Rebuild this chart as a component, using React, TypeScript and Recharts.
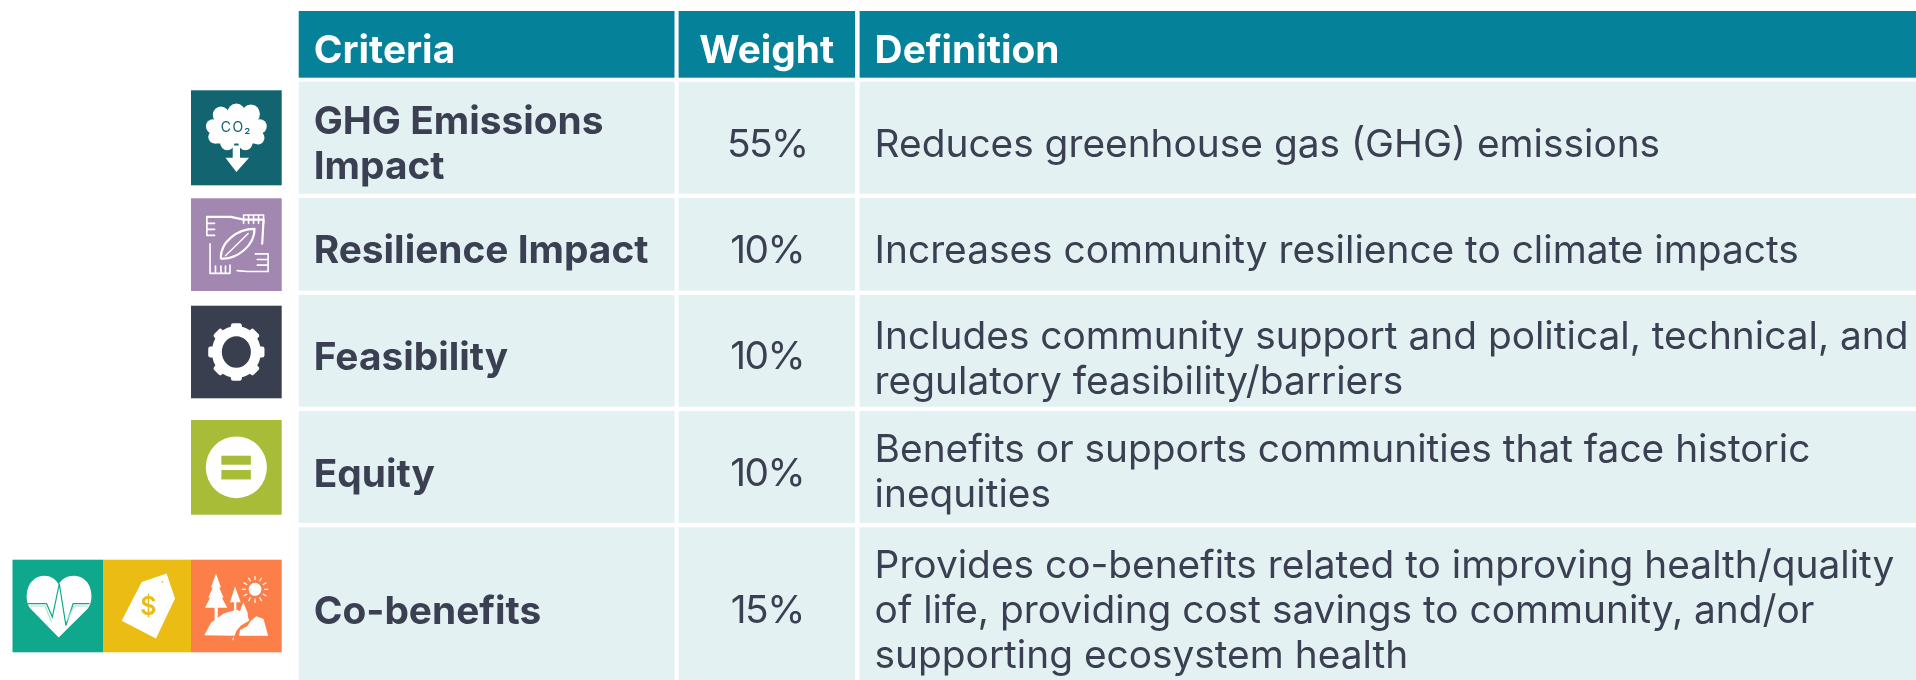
import React from "react";
import { ComposedChart, XAxis, YAxis, ReferenceArea, Scatter } from "recharts";

// ---- content ----
const headers = ["Criteria", "Weight", "Definition"];
const criteria = [
  ["GHG Emissions", "Impact"],
  ["Resilience Impact"],
  ["Feasibility"],
  ["Equity"],
  ["Co-benefits"],
];
const weights = [55, 10, 10, 10, 15];
const definitions = [
  ["Reduces greenhouse gas (GHG) emissions"],
  ["Increases community resilience to climate impacts"],
  ["Includes community support and political, technical, and", "regulatory feasibility/barriers"],
  ["Benefits or supports communities that face historic", "inequities"],
  [
    "Provides co-benefits related to improving health/quality",
    "of life, providing cost savings to community, and/or",
    "supporting ecosystem health",
  ],
];

// ---- layout on the chart's own pixel-sized axes ----
const W = 1916;
const H = 680;
const colLeft = [298.7, 678.6, 859.6];
const colRight = [674.5, 855, 1916];
const headTop = 11;
const headBottom = 77.7;
const headBase = 62.7;
const rowTop = [81.7, 198, 295, 411, 527.3];
const rowBottom = [193.7, 290.7, 406.7, 523, 680];
const critBase = [134, 263.3, 370.3, 487, 624.3];
const weightBase = [156.7, 262.7, 369.3, 486, 623.3];
const defBase = [156.7, 262.7, 349, 462.3, 578.3];
const LH = 45;
const TEXT_PAD = 15;
const iconLeft = [191];
const iconRight = [281.7];
const iconTop = [90.3, 198.3, 305.7, 420];
const iconBottom = [185.3, 291, 398.3, 514.7];
const benefitEdges = [12.5, 103, 191, 281.7];
const benefitTop = 559.7;
const benefitBottom = 652.3;

const HEAD = "#05829a";
const CELL = "#e4f1f3";
const INK = "#3b3f52";
const FONT = "Inter";
const SIZE = 38.85;

const weightPoints = weights.map((weight, r) => ({
  x: (colLeft[1] + colRight[1]) / 2 + 0.5,
  y: weightBase[r],
  weight,
}));

const rectShape = (fill: string, children?: (w: number, h: number) => React.ReactNode) => (p: any) => (
  <g transform={`translate(${p.x},${p.y})`}>
    <rect width={p.width} height={p.height} fill={fill} />
    {children ? children(p.width, p.height) : null}
  </g>
);

const textLines = (lines: string[], x: number, y: number, opts: any) => (
  <>
    {lines.map((l, i) => (
      <text key={i} x={x} y={y + i * LH} fontFamily={FONT} fontSize={SIZE} {...opts}>
        {l}
      </text>
    ))}
  </>
);

// Icons are drawn in a 0-100 box that is stretched to the area the axes give.
const box = (w: number, h: number, c: React.ReactNode) => (
  <g transform={`scale(${w / 100},${h / 100})`}>{c}</g>
);

const cloudIcon = (w: number, h: number) => (
  <>
    {box(
      w,
      h,
      <g fill="#fff">
        <circle cx="50" cy="24" r="10" />
        <circle cx="33" cy="26" r="9" />
        <circle cx="66" cy="25" r="10" />
        <circle cx="24" cy="38" r="7.5" />
        <circle cx="76" cy="38" r="7.5" />
        <circle cx="26" cy="49" r="7" />
        <circle cx="74" cy="50" r="7" />
        <circle cx="40" cy="55" r="8" />
        <circle cx="60" cy="55" r="8" />
        <rect x="26" y="24" width="48" height="32" />
        <path d="M46 58H54V71H64L50 86L38 71H46Z" />
      </g>
    )}
    <text x={w / 2} y={h * 0.44} textAnchor="middle" fontFamily={FONT} fontSize="14" fill="#126570" letterSpacing="1.5">
      CO₂
    </text>
  </>
);

const handsIcon = (w: number, h: number) =>
  box(
    w,
    h,
    <g fill="none" stroke="#fff" strokeWidth="2.4" strokeLinecap="round" strokeLinejoin="round">
      <path d="M33 65C32 48 50 33 70 33C70 50 52 66 33 65Z" />
      <path d="M38 62L63 38" strokeWidth="1.6" />
      <path d="M17.5 20H44L58 23H80L78.5 49" />
      <path d="M58 18V27M63.5 18V27M69 18V27M74.5 18V27M80 18V27M58 18H80" strokeWidth="1.8" />
      <path d="M17.5 20V40H26M17.5 27H26M17.5 33.5H26" strokeWidth="1.8" />
      <path d="M21 49V81H43V72M27 73V81M33 73V81M38 73V81" strokeWidth="1.8" />
      <path d="M51 78L62 79H85V60H71M85 60V79M73 66H85M73 72H85" strokeWidth="1.8" />
    </g>
  );

const gearIcon = (w: number, h: number) =>
  box(
    w,
    h,
    <g>
      <ellipse cx="50" cy="50" rx="21.5" ry="22.5" fill="none" stroke="#fff" strokeWidth="11" />
      {[0, 45, 90, 135, 180, 225, 270, 315].map((a) => (
        <rect key={a} x="44" y="19" width="12" height="11" rx="2.5" fill="#fff" transform={`rotate(${a} 50 50)`} />
      ))}
    </g>
  );

const equalIcon = (w: number, h: number) =>
  box(
    w,
    h,
    <g>
      <ellipse cx="50" cy="50" rx="33.7" ry="32.6" fill="#fff" />
      <rect x="33.5" y="37.7" width="32.5" height="9.5" fill="#a8bc38" />
      <rect x="33.5" y="52.8" width="32.5" height="10" fill="#a8bc38" />
    </g>
  );

const heartIcon = (w: number, h: number) =>
  box(
    w,
    h,
    <g>
      <path d="M51 84L20 53C13 45 15 28 23 22C32 14 46 17 51 27C56 17 71 14 80 22C88 28 90 45 83 53Z" fill="#fff" />
      <path d="M17 47.5H37.6L44 62L51.7 26L59 71L67 47.5H85" fill="none" stroke="#0fa88c" strokeWidth="1.3" />
      <path d="M19 50H36L43 67M60 66L68 50H83" fill="none" stroke="#a5dfd3" strokeWidth="1.2" />
    </g>
  );

const tagIcon = (w: number, h: number) => (
  <>
    {box(
      w,
      h,
      <g>
        <path d="M72.3 15L81.8 42L60.2 85L21.2 66L44 24Z" fill="#fff" />
        <circle cx="67.4" cy="24" r="1" fill="#ebbd14" />
      </g>
    )}
    <text x={w * 0.515} y={h * 0.6} textAnchor="middle" fontFamily={FONT} fontSize="25" fontWeight="600" fill="#ebbd14">
      $
    </text>
  </>
);

const natureIcon = (w: number, h: number) =>
  box(
    w,
    h,
    <g fill="#fff">
      <path d="M27.6 15L33 30H31L36 41H34L40 52H29.5V67H26V52H15.5L21 41H19L24 30H22Z" />
      <path d="M48.5 29L54.8 46H50V58H47.5V46H43Z" />
      <path d="M57.7 46L63 59H52.5Z" />
      <circle cx="70.6" cy="32" r="7" />
      <g stroke="#fff" strokeWidth="1.3">
        {[0, 30, 60, 90, 120, 150, 180, 210, 240, 270, 300, 330].map((a) => (
          <line key={a} x1="70.6" y1="22" x2="70.6" y2="17.5" transform={`rotate(${a} 70.6 32)`} />
        ))}
      </g>
      <path d="M14.7 81.6L22 68L36 58L50 54L62 58L64 66L55 71L50 77L48 82Z" />
      <path d="M66 66L72 61L80 64L85 82H53L54 76L62 72Z" />
      <path d="M47 84L46 87" stroke="#fff" strokeWidth="1.2" />
    </g>
  );

const iconFills = ["#126570", "#a288b0", "#3a3f50", "#a8bc38"];
const iconGlyphs = [cloudIcon, handsIcon, gearIcon, equalIcon];
const benefitFills = ["#0fa88c", "#ebbd14", "#fc7f4a"];
const benefitGlyphs = [heartIcon, tagIcon, natureIcon];

const WeightLabel = (p: any) => (
  <text x={p.cx} y={p.cy} textAnchor="middle" fontFamily={FONT} fontSize={SIZE} letterSpacing={-1.5} fill={INK}>
    {`${p.payload.weight}%`}
  </text>
);

export default function App() {
  const headText = { fill: "#fff", fontWeight: 700 };
  return (
    <div
      style={{
        position: "absolute",
        left: 0,
        top: 0,
        width: W,
        height: H,
        overflow: "hidden",
        background: "#fff",
        filter: "blur(0.5px)",
      }}
    >
      <ComposedChart width={W} height={H} margin={{ top: 0, right: 0, bottom: 0, left: 0 }}>
        <XAxis type="number" dataKey="x" domain={[0, W]} hide />
        <YAxis type="number" dataKey="y" domain={[0, H]} reversed hide />

        {headers.map((t, c) => (
          <ReferenceArea
            key={t}
            x1={colLeft[c]}
            x2={colRight[c]}
            y1={headTop}
            y2={headBottom}
            shape={rectShape(HEAD, (w) =>
              c === 1
                ? textLines([t], w / 2, headBase - headTop, { ...headText, textAnchor: "middle" })
                : textLines([t], TEXT_PAD, headBase - headTop, headText)
            )}
          />
        ))}

        {criteria.map((lines, r) => (
          <ReferenceArea
            key={"c" + r}
            x1={colLeft[0]}
            x2={colRight[0]}
            y1={rowTop[r]}
            y2={rowBottom[r]}
            shape={rectShape(CELL, () =>
              textLines(lines, TEXT_PAD, critBase[r] - rowTop[r], { fill: INK, fontWeight: 700 })
            )}
          />
        ))}
        {weights.map((v, r) => (
          <ReferenceArea
            key={"w" + r}
            x1={colLeft[1]}
            x2={colRight[1]}
            y1={rowTop[r]}
            y2={rowBottom[r]}
            fill={CELL}
            fillOpacity={1}
            stroke="none"
          />
        ))}
        {definitions.map((lines, r) => (
          <ReferenceArea
            key={"d" + r}
            x1={colLeft[2]}
            x2={colRight[2]}
            y1={rowTop[r]}
            y2={rowBottom[r]}
            shape={rectShape(CELL, () => textLines(lines, TEXT_PAD, defBase[r] - rowTop[r], { fill: INK }))}
          />
        ))}

        {iconFills.map((f, i) => (
          <ReferenceArea
            key={"i" + i}
            x1={iconLeft[0]}
            x2={iconRight[0]}
            y1={iconTop[i]}
            y2={iconBottom[i]}
            shape={rectShape(f, iconGlyphs[i])}
          />
        ))}
        {benefitFills.map((f, i) => (
          <ReferenceArea
            key={"b" + i}
            x1={benefitEdges[i]}
            x2={benefitEdges[i + 1]}
            y1={benefitTop}
            y2={benefitBottom}
            shape={rectShape(f, benefitGlyphs[i])}
          />
        ))}
        <Scatter data={weightPoints} dataKey="y" isAnimationActive={false} shape={WeightLabel} />
      </ComposedChart>
    </div>
  );
}
